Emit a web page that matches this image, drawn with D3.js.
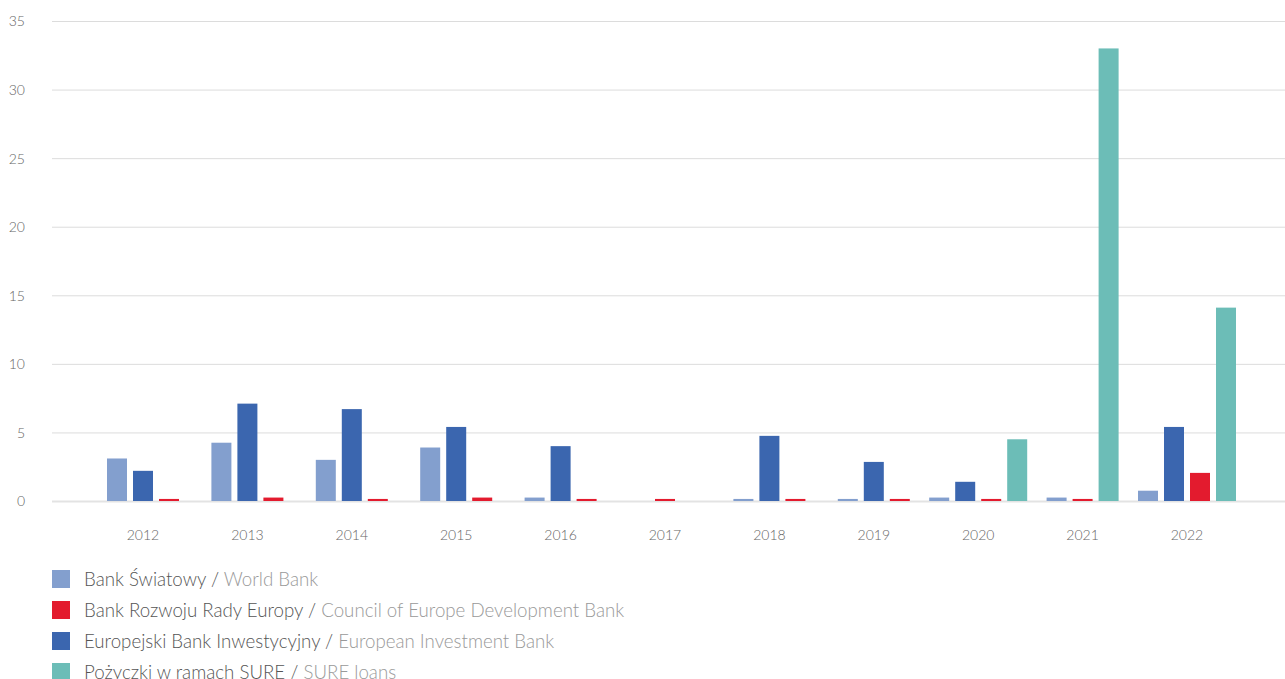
<!DOCTYPE html>
<html>
<head>
<meta charset="utf-8">
<script src="https://cdn.jsdelivr.net/npm/d3@7"></script>
<style>
  html, body { margin: 0; padding: 0; background: #fff; }
  svg { display: block; font-family: Lato, "Open Sans", sans-serif; }
</style>
</head>
<body>
<svg id="chart" width="1285" height="679"></svg>
<script>
// Years on the x axis
const years = ["2012", "2013", "2014", "2015", "2016", "2017", "2018", "2019", "2020", "2021", "2022"];

// Series values (null = no loan that year, bar omitted)
const worldBank = [3.1, 4.25, 3.0, 3.9, 0.25, null, 0.15, 0.15, 0.25, 0.25, 0.75];
const eib       = [2.2, 7.1, 6.7, 5.4, 4.0, null, 4.75, 2.85, 1.4, null, 5.4];
const ceb       = [0.15, 0.25, 0.15, 0.25, 0.15, 0.15, 0.15, 0.15, 0.15, 0.15, 2.05];
const sure      = [null, null, null, null, null, null, null, null, 4.5, 33.0, 14.1];

// Y axis ticks
const yTicks = [0, 5, 10, 15, 20, 25, 30, 35];

// Series labels (Polish / English)
const seriesPl = ["Bank Światowy", "Bank Rozwoju Rady Europy", "Europejski Bank Inwestycyjny", "Pożyczki w ramach SURE"];
const seriesEn = ["World Bank", "Council of Europe Development Bank", "European Investment Bank", "SURE loans"];

// Bar order inside a year group and legend order
const barOrder = ["wb", "eib", "ceb", "sure"];
const legendOrder = ["wb", "ceb", "eib", "sure"];
const seriesData = { wb: worldBank, ceb: ceb, eib: eib, sure: sure };
const seriesIndex = { wb: 0, ceb: 1, eib: 2, sure: 3 };
const colors = { wb: "#839fce", ceb: "#e31b2e", eib: "#3b66af", sure: "#6cbdb7" };

const svg = d3.select("#chart");

const gridLeft = 52, gridRight = 1285;
const y = d3.scaleLinear().domain([0, 35]).range([501, 21]);
const x = d3.scaleBand().domain(years).range([90.8, 1239.2]).padding(0);

// Gridlines
svg.append("g").selectAll("line")
  .data(yTicks)
  .join("line")
  .attr("x1", gridLeft).attr("x2", gridRight)
  .attr("y1", d => y(d) + 0.5).attr("y2", d => y(d) + 0.5)
  .attr("stroke", d => d === 0 ? "#e3e3e3" : "#dcdcdc")
  .attr("stroke-width", d => d === 0 ? 2 : 1);

// Y tick labels
svg.append("g").selectAll("text")
  .data(yTicks)
  .join("text")
  .attr("x", 25)
  .attr("y", d => y(d) + 0.5)
  .attr("dy", "0.35em")
  .attr("text-anchor", "end")
  .attr("font-size", 14)
  .attr("font-weight", 300)
  .attr("fill", "#666")
  .text(d => d);

// Bars: only the series present in a given year are laid out, centred on the year
const slot = 26, barPadInner = 6 / 26, barPadOuter = 3 / 26;
const barsG = svg.append("g");
years.forEach((yr, i) => {
  const present = barOrder.filter(k => seriesData[k][i] != null);
  const c = x(yr) + x.bandwidth() / 2;
  const inner = d3.scaleBand()
    .domain(present)
    .range([c - present.length * slot / 2, c + present.length * slot / 2])
    .paddingInner(barPadInner)
    .paddingOuter(barPadOuter);
  barsG.selectAll(null)
    .data(present.map(k => ({ k, v: seriesData[k][i] })))
    .join("rect")
    .attr("x", d => inner(d.k))
    .attr("width", inner.bandwidth())
    .attr("y", d => y(d.v))
    .attr("height", d => y(0) - y(d.v))
    .attr("fill", d => colors[d.k]);
});

// X labels
svg.append("g").selectAll("text")
  .data(years)
  .join("text")
  .attr("x", d => x(d) + x.bandwidth() / 2)
  .attr("y", 535)
  .attr("dy", "0.35em")
  .attr("text-anchor", "middle")
  .attr("font-size", 14)
  .attr("font-weight", 300)
  .attr("fill", "#666")
  .text(d => d);

// Legend
const legend = svg.append("g");
const legendY = d3.scalePoint().domain(legendOrder).range([579, 672]);
legendOrder.forEach(k => {
  const cy = legendY(k);
  legend.append("rect")
    .attr("x", 52).attr("y", cy - 9)
    .attr("width", 18).attr("height", 18)
    .attr("fill", colors[k]);
  const t = legend.append("text")
    .attr("x", 84).attr("y", cy)
    .attr("dy", "0.35em")
    .attr("font-size", 18.7)
    .attr("font-weight", 300);
  t.append("tspan").attr("fill", "#555").text(seriesPl[seriesIndex[k]] + " / ");
  t.append("tspan").attr("fill", "#999").text(seriesEn[seriesIndex[k]]);
});
</script>
</body>
</html>
